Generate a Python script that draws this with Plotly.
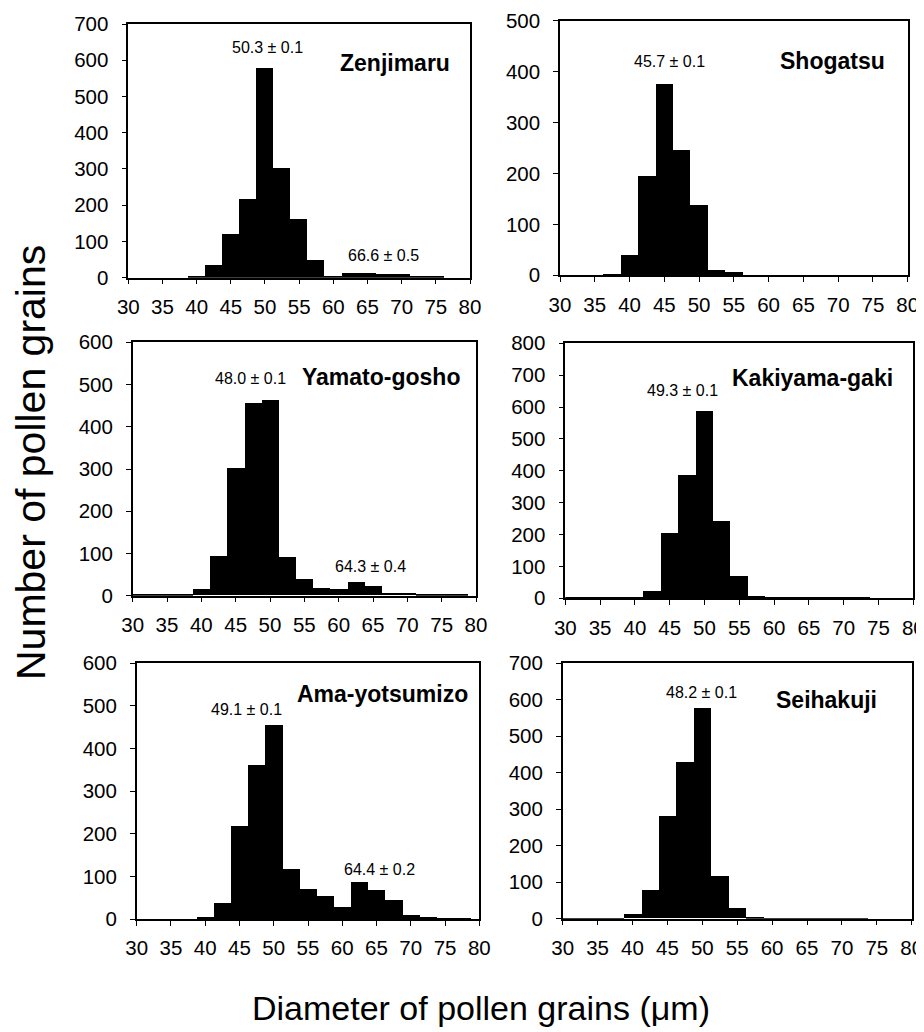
import plotly.graph_objects as go

# ---- data ----
bin_centers = [30, 32.5, 35, 37.5, 40, 42.5, 45, 47.5, 50, 52.5, 55, 57.5,
               60, 62.5, 65, 67.5, 70, 72.5, 75, 77.5]
bin_width = 2.5

cultivars = ["Zenjimaru", "Shogatsu", "Yamato-gosho", "Kakiyama-gaki",
             "Ama-yotsumizo", "Seihakuji"]

zenjimaru = [0, 0, 0, 0, 3, 35, 120, 218, 578, 302, 163, 48, 5, 14, 14, 10, 10, 3, 3, 0]
shogatsu = [0, 0, 0, 2, 40, 196, 377, 246, 139, 12, 7, 1, 1, 1, 1, 1, 1, 1, 1, 1]
yamato_gosho = [1, 1, 1, 1, 16, 94, 301, 455, 463, 91, 39, 18, 15, 31, 23, 6, 6, 1, 2, 1]
kakiyama_gaki = [1, 1, 1, 1, 1, 23, 204, 386, 588, 243, 70, 7, 2, 2, 1, 1, 1, 1, 0, 0]
ama_yotsumizo = [0, 0, 0, 0, 3, 37, 218, 361, 455, 117, 70, 54, 27, 85, 67, 43, 9, 3, 1, 1]
seihakuji = [1, 1, 1, 1, 12, 79, 280, 429, 577, 117, 28, 2, 1, 1, 1, 1, 1, 1, 0, 0]

series = [zenjimaru, shogatsu, yamato_gosho, kakiyama_gaki, ama_yotsumizo, seihakuji]
y_max = [700, 500, 600, 800, 600, 700]
y_dtick = [100, 100, 100, 100, 100, 100]

# mean labels: (text, x, y) in data units per panel
mean_labels = [
    [("50.3 ± 0.1", 50.3, 636), ("66.6 ± 0.5", 67.4, 60)],
    [("45.7 ± 0.1", 45.7, 419)],
    [("48.0 ± 0.1", 47.1, 515), ("64.3 ± 0.4", 64.6, 69)],
    [("49.3 ± 0.1", 46.8, 651)],
    [("49.1 ± 0.1", 46.05, 492), ("64.4 ± 0.2", 65.4, 117)],
    [("48.2 ± 0.1", 49.9, 620)],
]
name_pos = [(69.0, 592), (69.2, 420), (66.1, 518), (65.5, 692), (65.9, 528), (67.8, 599)]

x_ticks = [30, 35, 40, 45, 50, 55, 60, 65, 70, 75, 80]

# ---- layout geometry ----
# the page body adds an 8 px margin, so the figure is drawn 8 px smaller
# and all reference pixel positions are shifted by that offset
OFF = 8
W, H = 924 - OFF, 1032 - OFF
boxes_ref = [  # left, right, top, bottom in reference pixels
    (128.3, 470.0, 24.0, 277.7),
    (560.0, 907.7, 20.5, 275.3),
    (132.7, 476.0, 342.3, 595.7),
    (565.3, 913.3, 343.3, 598.3),
    (136.7, 479.3, 663.3, 919.0),
    (562.7, 911.7, 663.3, 918.7),
]

FONT = "Arial, Liberation Sans, Helvetica, sans-serif"

fig = go.Figure()
layout = dict(
    width=W, height=H,
    margin=dict(l=0, r=0, t=0, b=0, pad=0),
    paper_bgcolor="white", plot_bgcolor="white",
    showlegend=False,
    font=dict(family=FONT, color="black"),
    bargap=0,
    annotations=[],
)

for i, (vals, ym) in enumerate(zip(series, y_max)):
    n = i + 1
    xa = "x" if n == 1 else f"x{n}"
    ya = "y" if n == 1 else f"y{n}"
    fig.add_trace(go.Bar(
        x=bin_centers, y=vals, width=bin_width,
        marker=dict(color="black", line=dict(width=0)),
        xaxis=xa, yaxis=ya, hoverinfo="x+y",
    ))
    l, r, t, b = [v - OFF for v in boxes_ref[i]]
    common = dict(showline=True, linecolor="black", linewidth=1.5, mirror=True,
                  ticks="outside", ticklen=5, tickwidth=1.2, tickcolor="black",
                  showgrid=False, zeroline=False, automargin=False,
                  ticklabeloverflow="allow",
                  tickfont=dict(family=FONT, size=20.5, color="black"))
    layout[f"xaxis{n if n > 1 else ''}"] = dict(
        domain=[l / W, r / W], anchor=ya, range=[30, 80],
        tickmode="array", tickvals=x_ticks, ticktext=[str(v) for v in x_ticks],
        ticklabelstandoff=5,
        **common)
    layout[f"yaxis{n if n > 1 else ''}"] = dict(
        domain=[1 - b / H, 1 - t / H], anchor=xa, range=[0, ym],
        tickmode="linear", tick0=0, dtick=y_dtick[i], ticklabelstandoff=9,
        **common)
    for txt, ax_, ay_ in mean_labels[i]:
        layout["annotations"].append(dict(
            text=txt, x=ax_, y=ay_, xref=xa, yref=ya, showarrow=False,
            font=dict(family=FONT, size=16, color="black"),
            xanchor="center", yanchor="middle"))
    nx, ny = name_pos[i]
    layout["annotations"].append(dict(
        text=f"<b>{cultivars[i]}</b>", x=nx, y=ny, xref=xa, yref=ya, showarrow=False,
        font=dict(family=FONT, size=23, color="black"),
        xanchor="center", yanchor="middle"))

# axis titles
layout["annotations"].append(dict(
    text="Number of pollen grains", x=(31 - OFF) / W, y=1 - (463 - OFF) / H,
    xref="paper", yref="paper", showarrow=False, textangle=-90,
    font=dict(family=FONT, size=41, color="black"),
    xanchor="center", yanchor="middle"))
layout["annotations"].append(dict(
    text="Diameter of pollen grains (μm)", x=(481 - OFF) / W, y=1 - (1008 - OFF) / H,
    xref="paper", yref="paper", showarrow=False,
    font=dict(family=FONT, size=34, color="black"),
    xanchor="center", yanchor="middle"))

fig.update_layout(**layout)
fig.write_html("out.html")
